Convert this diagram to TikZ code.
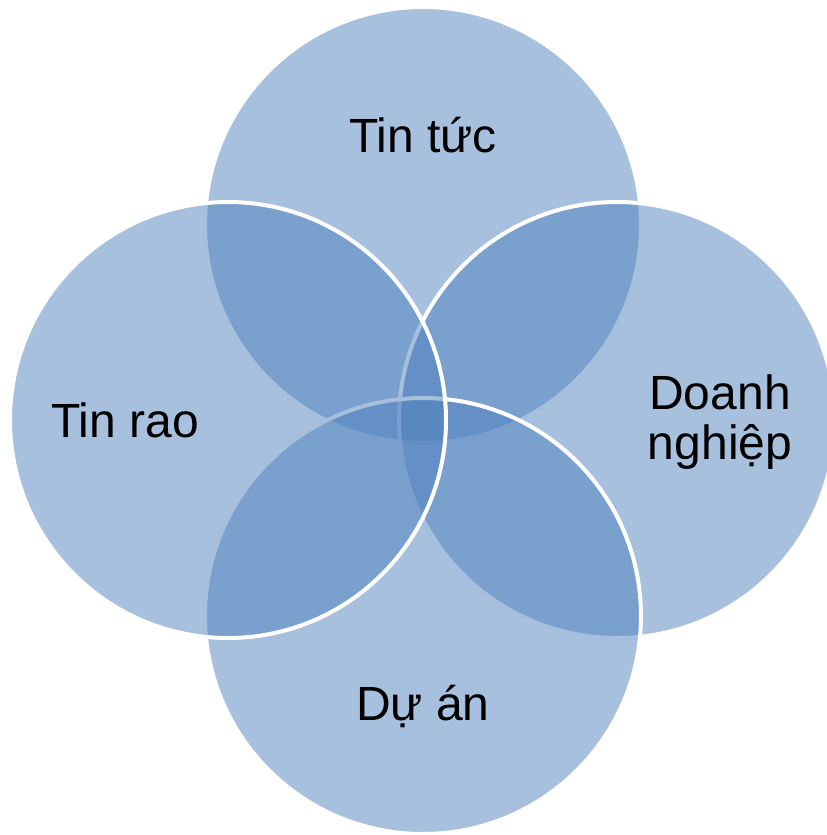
\documentclass[tikz,border=0pt]{standalone}
\usepackage{fontspec}
\setmainfont{Liberation Sans}
\begin{document}
\begin{tikzpicture}[x=0.75pt, y=-0.75pt]
\tikzset{vong/.style={draw=white, line width=3pt, circle, minimum size=327pt, inner sep=0pt, fill={rgb,255:red,79;green,129;blue,189}, fill opacity=0.5},
nhan/.style={font=\fontsize{36}{37.5}\selectfont, align=center, text=black}}
\useasboundingbox (0, 0) rectangle (827, 835);
\clip (0, 0) rectangle (827, 835);
\node[vong] (C1) at (423, 225) {};
\node[vong] (C2) at (617, 420) {};
\node[vong] (C3) at (423, 616) {};
\node[vong] (C4) at (228, 420) {};
\node[nhan] (L1) at (423, 135) {Tin tức};
\node[nhan] (L2) at (720, 422) {Doanh\\nghiệp};
\node[nhan] (L3) at (423, 706) {Dự án};
\node[nhan] (L4) at (125, 420) {Tin rao};
\end{tikzpicture}
\end{document}
